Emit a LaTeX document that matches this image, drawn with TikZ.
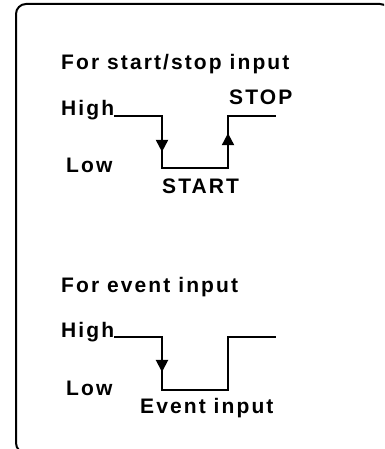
\documentclass[tikz,border=0pt]{standalone}
\usepackage{fontspec}
\setmainfont{Liberation Sans}[LetterSpace=10]
\usetikzlibrary{arrows.meta,decorations.markings}
\tikzset{
  wave/.style={line width=2pt},
  lbl/.style={anchor=base west, inner sep=0pt},
  edgetip/.style={postaction={decorate}, decoration={markings,
    mark=at position #1 with {\arrow{Triangle[width=12pt,length=12pt]}}}}
}

\begin{document}
\begin{tikzpicture}[x=1pt, y=-1pt, font=\fontsize{21}{25}\selectfont\bfseries]
  \clip (0,0) rectangle (384,449);
  % frame
  \draw[line width=2pt, rounded corners=10pt] (16,4) rectangle (390,453);
  % start/stop input
  \node[lbl] (ssTitle) at (61,70) {For start/stop input};
  \node[lbl] (ssHigh) at (61,116) {High};
  \node[lbl] (ssLow) at (66,172) {Low};
  \node[lbl] (ssStop) at (229,105) {STOP};
  \node[lbl] (ssStart) at (162,193) {START};
  \coordinate (s1) at (162,116);
  \coordinate (s2) at (162,168);
  \coordinate (s3) at (228,168);
  \coordinate (s4) at (228,116);
  \coordinate (s5) at (276,116);
  \draw[wave] (ssHigh.base east) -- (s1) -- (s2) -- (s3) -- (s4) -- (s5);
  \draw[wave, edgetip=0.69] (s1) -- (s2);
  \draw[wave, edgetip=0.67] (s3) -- (s4);
  % event input
  \node[lbl] (evTitle) at (61,292) {For event input};
  \node[lbl] (evHigh) at (61,337) {High};
  \node[lbl] (evLow) at (66,395) {Low};
  \node[lbl] (evInput) at (140,413) {Event input};
  \coordinate (e1) at (162,337);
  \coordinate (e2) at (162,390);
  \coordinate (e3) at (228,390);
  \coordinate (e4) at (228,337);
  \coordinate (e5) at (276,337);
  \draw[wave] (evHigh.base east) -- (e1) -- (e2) -- (e3) -- (e4) -- (e5);
  \draw[wave, edgetip=0.66] (e1) -- (e2);
\end{tikzpicture}
\end{document}
